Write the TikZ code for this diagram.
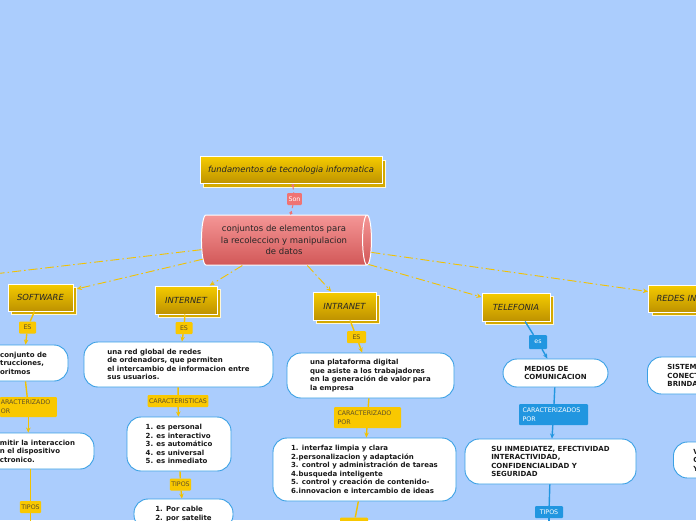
\documentclass[tikz,border=0pt]{standalone}
\usepackage{fontspec}
\setmainfont{DejaVu Sans}
\usetikzlibrary{shapes.geometric,shadows,arrows.meta}

\definecolor{sky}{RGB}{171,205,253}
\definecolor{goldtop}{RGB}{245,203,0}
\definecolor{goldbot}{RGB}{190,146,0}
\definecolor{tagyellow}{RGB}{249,200,0}
\definecolor{tagtext}{RGB}{95,80,40}
\definecolor{linkyellow}{RGB}{242,194,0}
\definecolor{linkblue}{RGB}{33,150,224}
\definecolor{nodeblue}{RGB}{58,160,228}
\definecolor{cyltop}{RGB}{245,150,150}
\definecolor{cylbot}{RGB}{210,88,88}
\definecolor{sonred}{RGB}{240,115,115}

\tikzset{
  topic/.style={rectangle, draw=white, line width=1pt, top color=goldtop, bottom color=goldbot,
    general shadow={shadow xshift=3.5pt, shadow yshift=-3.5pt, fill=goldbot!60!goldtop, draw=white!85!goldtop, line width=1pt},
    font=\fontsize{8.4}{10}\selectfont\itshape, text=black!85, inner sep=0pt},
  bubble/.style={rectangle, rounded corners=14pt, draw=nodeblue, line width=0.9pt, fill=white,
    font=\fontsize{7}{8.5}\selectfont\bfseries, text=black!90, align=left, inner sep=0pt},
  tag/.style={rectangle, rounded corners=1pt, fill=tagyellow, text=tagtext,
    font=\fontsize{6.3}{9}\selectfont, inner sep=1.5pt, minimum height=12pt},
  bluetag/.style={tag, fill=linkblue, text=white},
  branch/.style={->, linkyellow, line width=0.9pt, dash pattern=on 9pt off 3pt on 1.5pt off 3pt},
  link/.style={linkyellow, line width=1.4pt},
  bluelink/.style={linkblue, line width=1.4pt},
  sonlink/.style={sonred, line width=1pt, dashed}
}

\begin{document}
\begin{tikzpicture}[x=1pt,y=-1pt,>={Stealth[length=5pt,width=4.5pt]}]
\fill[sky] (0,0) rectangle (696,520);
\useasboundingbox (0,0) rectangle (696,520);
\clip (0,0) rectangle (696,520);

% centro
\node[topic, minimum width=182pt, minimum height=27pt] (title) at (291,170) {fundamentos de tecnologia informatica};
\node[cylinder, shape aspect=0.3, minimum height=170pt, minimum width=50pt, draw=white, line width=1pt,
  top color=cyltop, bottom color=cylbot, align=center, text=black!85,
  font=\fontsize{8.5}{11.5}\selectfont, inner sep=0pt] (cyl) at (284,240)
  {conjuntos de elementos para\\la recoleccion y manipulacion\\de datos};
\node[tag, fill=sonred, text=white] (son) at (294.5,199) {Son};
\draw[sonlink, {Circle[length=3pt]}-] (title) -- (son);
\draw[sonlink, -{Circle[length=3pt]}] (son) -- (cyl);

% ramas
\node[topic, minimum width=65pt, minimum height=27pt] (software) at (40.5,297.5) {SOFTWARE};
\node[topic, minimum width=62pt, minimum height=28pt] (internet) at (186,300) {INTERNET};
\node[topic, minimum width=63pt, minimum height=28pt] (intranet) at (344.5,306) {INTRANET};
\node[topic, minimum width=68pt, minimum height=28pt] (telefonia) at (516,307) {TELEFONIA};
\node[topic, minimum height=27pt, anchor=west, text width=82pt, inner xsep=8pt, align=left] (redes) at (648,298.5) {REDES IN};
\coordinate (offleft) at (-100,285);

\draw[branch] (cyl) -- (offleft);
\draw[branch, shorten >=3.5pt] (cyl) -- (software);
\draw[branch] (cyl) -- (internet);
\draw[branch] (cyl) -- (intranet);
\draw[branch] (cyl) -- (telefonia);
\draw[branch] (cyl) -- (redes);

% software
\node[tag, minimum width=17pt] (es1) at (27.5,327.5) {ES};
\node[bubble, minimum width=89pt, minimum height=36pt] (sw1) at (23.5,363) {conjunto de\\trucciones,\\oritmos};
\node[tag, anchor=east, text width=55pt, align=left, inner xsep=1pt, minimum height=20pt] (carac1) at (57,407) {ARACTERIZADO\\OR};
\node[bubble, minimum width=113pt, minimum height=36pt] (sw2) at (37.5,451) {mitir la interaccion\\n el dispositivo\\ctronico.};
\node[tag] (tipos1) at (30.5,507) {TIPOS};
\coordinate (swnext) at (30.5,560);
\draw[link] (software) -- (es1);
\draw[link,->] (es1) -- (sw1);
\draw[link] (sw1) -- (carac1);
\draw[link,->] (carac1) -- (sw2.north -| carac1);
\draw[link] (sw2.south -| tipos1) -- (tipos1);
\draw[link,->] (tipos1) -- (swnext);

% internet
\node[tag, minimum width=17pt] (es2) at (184,328) {ES};
\node[bubble, minimum width=189pt, minimum height=45pt] (in1) at (178.5,364.5) {una red global  de redes\\de ordenadors, que permiten\\el intercambio de informacion entre\\sus usuarios.};
\node[tag] (carac2) at (178,401) {CARACTERISTICAS};
\node[bubble, minimum width=104pt, minimum height=54pt] (in2) at (179,444) {1. es personal\\2. es interactivo\\3. es automático\\4. es universal\\5. es inmediato};
\node[tag] (tipos2) at (180.5,484.5) {TIPOS};
\node[bubble, minimum width=99pt, minimum height=30pt] (in3) at (183.5,514) {1. Por cable\\2. por satelite};
\draw[link] (internet) -- (es2);
\draw[link,->] (es2) -- (in1);
\draw[link] (in1) -- (carac2);
\draw[link,->] (carac2) -- (in2);
\draw[link] (in2) -- (tipos2);
\draw[link,->] (tipos2) -- (in3);

% intranet
\node[tag, minimum width=19pt] (es3) at (356.5,337) {ES};
\node[bubble, minimum width=167pt, minimum height=45pt] (it1) at (370.5,375.5) {una plataforma digital\\que asiste a los trabajadores\\en la generación de valor para\\la empresa};
\node[tag, text width=60pt, align=left, inner xsep=3.5pt, minimum height=21pt] (carac3) at (367.5,417.5) {CARACTERIZADO\\POR};
\node[bubble, minimum width=183pt, minimum height=63pt] (it2) at (364.5,469.5) {1. interfaz limpia y clara\\2.personalizacion y adaptación\\3. control y administración de tareas\\4.busqueda inteligente\\5. control y creación de contenido-\\6.innovacion e intercambio de ideas};
\node[tag, minimum width=28pt, minimum height=13pt] (tipos3) at (354,524) {};
\draw[link] (intranet) -- (es3);
\draw[link,->] (es3) -- (it1);
\draw[link] (it1) -- (carac3);
\draw[link,->] (carac3) -- (it2);
\draw[link] (it2) -- (tipos3);

% telefonia
\node[bluetag, minimum width=18pt, minimum height=14pt] (esb) at (538,342) {es};
\node[bubble, minimum width=105pt, minimum height=28pt] (tel1) at (555.5,373) {MEDIOS DE\\COMUNICACION};
\node[bluetag, text width=62pt, align=left, inner xsep=3.5pt, minimum height=21pt] (caracb) at (553.5,414.5) {CARACTERIZADOS\\POR};
\node[bubble, minimum width=171pt, minimum height=45pt] (tel2) at (550.5,461.5) {SU INMEDIATEZ, EFECTIVIDAD\\INTERACTIVIDAD,\\CONFIDENCIALIDAD Y\\SEGURIDAD};
\node[bluetag, minimum width=28pt] (tiposb) at (549,512) {TIPOS};
\coordinate (telnext) at (549,560);
\draw[bluelink] (telefonia) -- (esb);
\draw[bluelink,->] (esb) -- (tel1);
\draw[bluelink] (tel1) -- (caracb);
\draw[bluelink,->] (caracb) -- (tel2);
\draw[bluelink] (tel2) -- (tiposb);
\draw[bluelink,->] (tiposb) -- (telnext);

% redes
\node[bubble, anchor=west, minimum height=37pt, text width=80pt, inner xsep=20pt] (red1) at (647,375.5) {SISTEM\\CONECT\\BRINDA};
\node[bubble, anchor=west, minimum height=36pt, text width=60pt, inner xsep=20pt] (red2) at (673,460) {V\\C\\Y};
\end{tikzpicture}
\end{document}
